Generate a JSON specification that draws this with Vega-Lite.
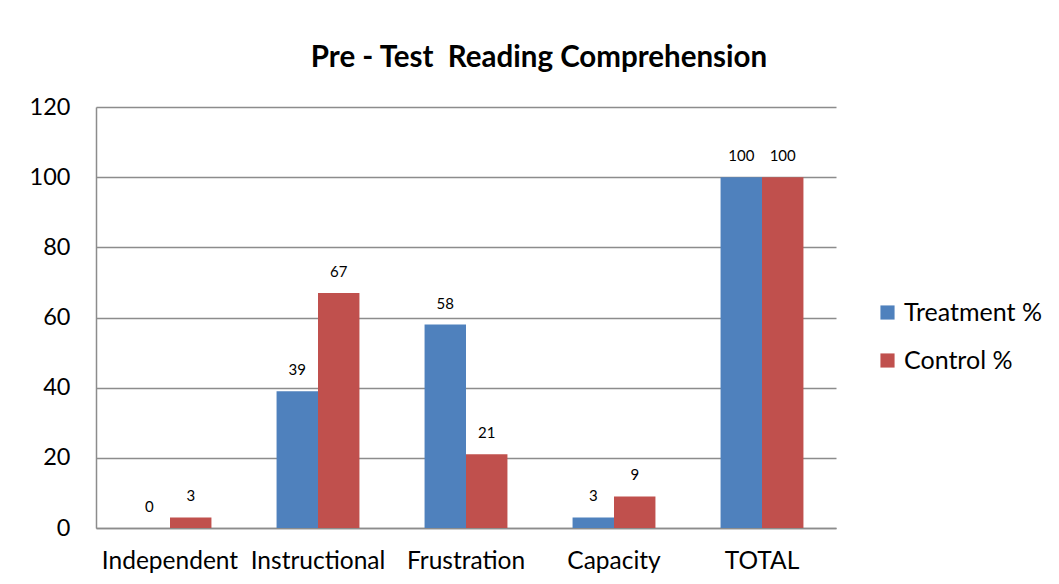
{
  "$schema": "https://vega.github.io/schema/vega-lite/v6.json",
  "autosize": {"type": "none"},
  "padding": {"left": 96, "top": 107, "right": 223, "bottom": 56},
  "width": 740,
  "height": 421,
  "background": "white",
  "title": {
    "text": "Pre - Test \u00a0Reading Comprehension",
    "font": "Lato",
    "fontSize": 29.5,
    "fontWeight": "bold",
    "color": "#000000",
    "anchor": "middle",
    "dx": 73,
    "offset": 22
  },
  "data": {
    "values": [
      {"category": "Independent", "group": "Treatment %", "value": 0},
      {"category": "Independent", "group": "Control %", "value": 3},
      {"category": "Instructional", "group": "Treatment %", "value": 39},
      {"category": "Instructional", "group": "Control %", "value": 67},
      {"category": "Frustration", "group": "Treatment %", "value": 58},
      {"category": "Frustration", "group": "Control %", "value": 21},
      {"category": "Capacity", "group": "Treatment %", "value": 3},
      {"category": "Capacity", "group": "Control %", "value": 9},
      {"category": "TOTAL", "group": "Treatment %", "value": 100},
      {"category": "TOTAL", "group": "Control %", "value": 100}
    ]
  },
  "encoding": {
    "x": {
      "field": "category",
      "type": "nominal",
      "sort": ["Independent", "Instructional", "Frustration", "Capacity", "TOTAL"],
      "scale": {"paddingInner": 0.44, "paddingOuter": 0.22},
      "axis": {
        "title": null,
        "labelAngle": 0,
        "labelFont": "Lato",
        "labelFontSize": 24.5,
        "labelColor": "#000000",
        "labelPadding": 21,
        "ticks": false,
        "domainColor": "#8c8c8c",
        "domainWidth": 1.5
      }
    },
    "xOffset": {
      "field": "group",
      "type": "nominal",
      "sort": ["Treatment %", "Control %"]
    },
    "y": {
      "field": "value",
      "type": "quantitative",
      "scale": {"domain": [0, 120]},
      "axis": {
        "title": null,
        "values": [0, 20, 40, 60, 80, 100, 120],
        "labelFont": "Lato",
        "labelFontSize": 23.5,
        "labelColor": "#000000",
        "labelPadding": 26,
        "ticks": false,
        "domainColor": "#8c8c8c",
        "domainWidth": 1.5,
        "grid": true,
        "gridColor": "#8c8c8c",
        "gridWidth": 1.5
      }
    },
    "color": {
      "field": "group",
      "type": "nominal",
      "sort": ["Treatment %", "Control %"],
      "scale": {"domain": ["Treatment %", "Control %"], "range": ["#4F81BD", "#C0504D"]},
      "legend": {
        "title": null,
        "orient": "none",
        "legendX": 779,
        "legendY": 193,
        "symbolType": "square",
        "symbolSize": 200,
        "symbolStrokeWidth": 0,
        "labelFont": "Lato",
        "labelFontSize": 25,
        "labelColor": "#000000",
        "rowPadding": 22,
        "labelOffset": 4
      }
    }
  },
  "layer": [
    {"mark": {"type": "bar"}},
    {
      "mark": {"type": "text", "dy": -21, "baseline": "middle", "font": "Lato", "fontSize": 15, "color": "#000000"},
      "encoding": {"text": {"field": "value", "type": "quantitative"}, "color": {"value": "#000000"}}
    }
  ],
  "config": {"view": {"stroke": null}}
}
